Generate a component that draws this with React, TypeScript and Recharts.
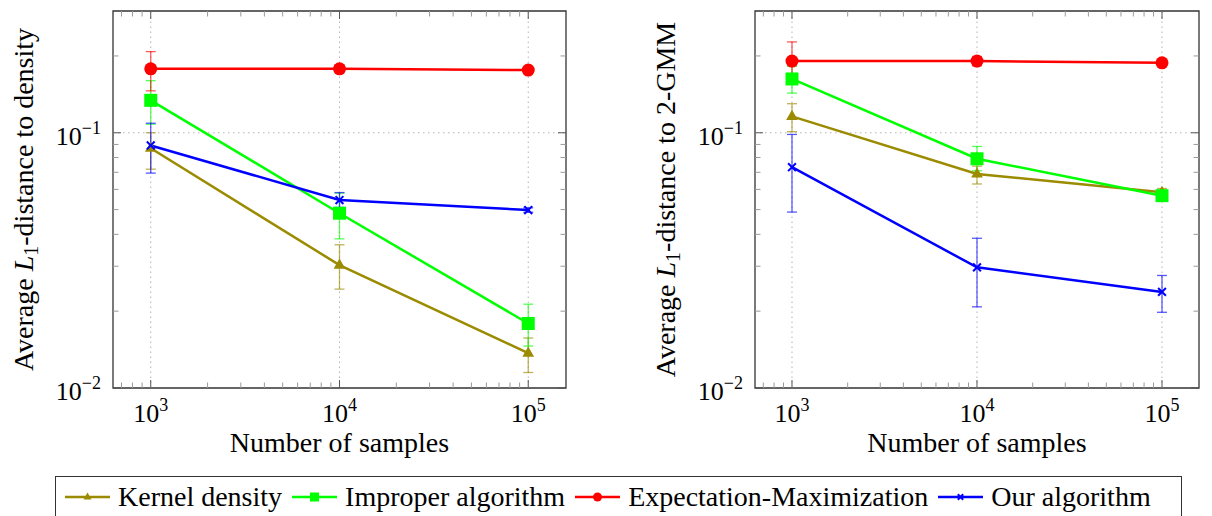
import React from "react";
import { LineChart, Line, XAxis, YAxis, ErrorBar, ReferenceLine, ReferenceArea } from "recharts";

const FONT = "'Liberation Serif', 'Times New Roman', serif";

const samples = [1000, 10000, 100000];

const xTicks = [
  700, 800, 900, 1000, 2000, 3000, 4000, 5000, 6000, 7000, 8000, 9000, 10000,
  20000, 30000, 40000, 50000, 60000, 70000, 80000, 90000, 100000,
];
const yTicks = [0.01, 0.02, 0.03, 0.04, 0.05, 0.06, 0.07, 0.08, 0.09, 0.1, 0.2];
const xMajor = [1000, 10000, 100000];
const xDomain = [631, 158489];
const yDomain = [0.01, 0.3];

// left panel: L1 distance to density (mean, lower, upper)
const densKernel = [0.087, 0.0303, 0.0137];
const densKernelLo = [0.072, 0.0244, 0.0115];
const densKernelHi = [0.1, 0.0364, 0.0157];
const densImproper = [0.134, 0.0484, 0.0179];
const densImproperLo = [0.108, 0.0384, 0.0146];
const densImproperHi = [0.16, 0.058, 0.0213];
const densEM = [0.178, 0.178, 0.176];
const densEMLo = [0.146, 0.172, 0.173];
const densEMHi = [0.208, 0.184, 0.179];
const densOurs = [0.0892, 0.0545, 0.0498];
const densOursLo = [0.0695, 0.051, 0.0488];
const densOursHi = [0.109, 0.0583, 0.0508];

// right panel: L1 distance to 2-GMM
const gmmKernel = [0.116, 0.069, 0.0585];
const gmmKernelLo = [0.101, 0.063, 0.0565];
const gmmKernelHi = [0.13, 0.074, 0.0605];
const gmmImproper = [0.1625, 0.0791, 0.0567];
const gmmImproperLo = [0.143, 0.071, 0.0545];
const gmmImproperHi = [0.182, 0.0884, 0.059];
const gmmEM = [0.191, 0.191, 0.188];
const gmmEMLo = [0.16, 0.183, 0.184];
const gmmEMHi = [0.227, 0.199, 0.192];
const gmmOurs = [0.0733, 0.0297, 0.0238];
const gmmOursLo = [0.0489, 0.0208, 0.0198];
const gmmOursHi = [0.0985, 0.0386, 0.0276];

const SERIES = [
  { key: "kernel", name: "Kernel density", color: "#9b8b00", shape: "triangle" },
  { key: "improper", name: "Improper algorithm", color: "#00ff00", shape: "square" },
  { key: "em", name: "Expectation-Maximization", color: "#ff0000", shape: "circle" },
  { key: "ours", name: "Our algorithm", color: "#0000ff", shape: "cross" },
];

type Triple = [number[], number[], number[]];

function buildRows(sets: Record<string, Triple>) {
  return samples.map((n, i) => {
    const row: any = { n };
    for (const k of Object.keys(sets)) {
      const [m, lo, hi] = sets[k];
      row[k] = m[i];
      row[k + "Err"] = [m[i] - lo[i], hi[i] - m[i]];
    }
    return row;
  });
}

const densityRows = buildRows({
  kernel: [densKernel, densKernelLo, densKernelHi],
  improper: [densImproper, densImproperLo, densImproperHi],
  em: [densEM, densEMLo, densEMHi],
  ours: [densOurs, densOursLo, densOursHi],
});

const gmmRows = buildRows({
  kernel: [gmmKernel, gmmKernelLo, gmmKernelHi],
  improper: [gmmImproper, gmmImproperLo, gmmImproperHi],
  em: [gmmEM, gmmEMLo, gmmEMHi],
  ours: [gmmOurs, gmmOursLo, gmmOursHi],
});

function Marker({ shape, cx, cy, color, s }: any) {
  if (cx == null || cy == null) return null;
  if (shape === "triangle") {
    return (
      <polygon
        points={`${cx},${cy - s} ${cx - s * 0.9},${cy + s * 0.55} ${cx + s * 0.9},${cy + s * 0.55}`}
        fill={color}
      />
    );
  }
  if (shape === "square") {
    return <rect x={cx - s} y={cy - s} width={2 * s} height={2 * s} fill={color} />;
  }
  if (shape === "circle") {
    return <circle cx={cx} cy={cy} r={s} fill={color} />;
  }
  const h = s * 0.6;
  return (
    <g stroke={color} strokeWidth={2}>
      <line x1={cx - h} y1={cy - h} x2={cx + h} y2={cy + h} />
      <line x1={cx - h} y1={cy + h} x2={cx + h} y2={cy - h} />
    </g>
  );
}

function XTick(props: any) {
  const { x, y, payload, top } = props;
  const v = payload.value;
  const major = xMajor.includes(v);
  const len = major ? 8 : 5.5;
  const stroke = major ? "#555" : "#9a9a9a";
  const exp = Math.round(Math.log10(v));
  return (
    <g>
      <line x1={x} y1={y} x2={x} y2={y - len} stroke={stroke} strokeWidth={1} />
      <line x1={x} y1={top} x2={x} y2={top + len} stroke={stroke} strokeWidth={1} />
      {major && (
        <text x={x} y={y + 34} textAnchor="middle" fontFamily={FONT} fontSize={26} fill="#000">
          10
          <tspan dy={-11} fontSize={18}>
            {exp}
          </tspan>
        </text>
      )}
    </g>
  );
}

function YTick(props: any) {
  const { x, y, payload, right } = props;
  const v = payload.value;
  const exp = Math.round(Math.log10(v));
  const major = Math.abs(Math.log10(v) - exp) < 1e-6;
  const len = major ? 8 : 5.5;
  const stroke = major ? "#555" : "#9a9a9a";
  return (
    <g>
      <line x1={x} y1={y} x2={x + len} y2={y} stroke={stroke} strokeWidth={1} />
      <line x1={right} y1={y} x2={right - len} y2={y} stroke={stroke} strokeWidth={1} />
      {major && (
        <text x={x - 12} y={y + 12} textAnchor="end" fontFamily={FONT} fontSize={26} fill="#000">
          10
          <tspan dy={-11} fontSize={18}>
            {"\u2212" + Math.abs(exp)}
          </tspan>
        </text>
      )}
    </g>
  );
}

function Title({ tx, ty, rotate, children }: any) {
  return (
    <text
      x={tx}
      y={ty}
      transform={rotate ? `rotate(-90, ${tx}, ${ty})` : undefined}
      textAnchor="middle"
      fontFamily={FONT}
      fontSize={28}
      fill="#000"
    >
      {children}
    </text>
  );
}

const PLOT_TOP = 11;
const PLOT_BOTTOM = 388;
const CHART_H = 470;

function Panel({ rows, width, plotLeft, plotRight, target }: any) {
  const midX = (plotLeft + plotRight) / 2;
  const midY = (PLOT_TOP + PLOT_BOTTOM) / 2;
  return (
    <LineChart
      width={width}
      height={CHART_H}
      data={rows}
      margin={{ top: PLOT_TOP, right: width - plotRight, bottom: 0, left: 0 }}
    >
      <XAxis
        dataKey="n"
        type="number"
        scale="log"
        domain={xDomain}
        allowDataOverflow
        ticks={xTicks}
        interval={0}
        tickSize={0}
        tickMargin={0}
        axisLine={false}
        tickLine={false}
        height={CHART_H - PLOT_BOTTOM}
        tick={<XTick top={PLOT_TOP} />}
        label={<Title tx={midX} ty={452}>Number of samples</Title>}
      />
      <YAxis
        type="number"
        scale="log"
        domain={yDomain}
        allowDataOverflow
        ticks={yTicks}
        interval={0}
        tickSize={0}
        tickMargin={0}
        axisLine={false}
        tickLine={false}
        width={plotLeft}
        tick={<YTick right={plotRight} />}
        label={
          <Title tx={plotLeft - 80} ty={midY} rotate>
            Average{" "}
            <tspan fontStyle="italic">L</tspan>
            <tspan fontSize={20} dy={5}>
              1
            </tspan>
            <tspan dy={-5}>-distance to {target}</tspan>
          </Title>
        }
      />
      {xMajor.map((v) => (
        <ReferenceLine key={v} x={v} stroke="#b4b4b4" strokeDasharray="1.5 3.5" strokeWidth={1} />
      ))}
      <ReferenceLine y={0.1} stroke="#b4b4b4" strokeDasharray="1.5 3.5" strokeWidth={1} />
      <ReferenceArea
        x1={xDomain[0]}
        x2={xDomain[1]}
        y1={yDomain[0]}
        y2={yDomain[1]}
        fill="none"
        fillOpacity={0}
        stroke="#333"
        strokeWidth={1.3}
      />
      {SERIES.map((s) => (
        <Line
          key={s.key}
          type="linear"
          dataKey={s.key}
          stroke={s.color}
          strokeWidth={2.5}
          activeDot={false}
          isAnimationActive={false}
          dot={(p: any) => (
            <Marker key={`${s.key}-${p.index}`} shape={s.shape} cx={p.cx} cy={p.cy} color={s.color} s={6.5} />
          )}
        >
          <ErrorBar
            dataKey={s.key + "Err"}
            direction="y"
            width={5}
            stroke={s.color}
            strokeWidth={1.3}
            strokeOpacity={0.65}
            isAnimationActive={false}
          />
        </Line>
      ))}
    </LineChart>
  );
}

function LegendBox() {
  return (
    <div
      style={{
        position: "absolute",
        left: 55,
        top: 476,
        width: 1127,
        height: 60,
        boxSizing: "border-box",
        border: "1px solid #333",
        display: "flex",
        alignItems: "flex-start",
        paddingLeft: 9,
        paddingTop: 6,
        fontFamily: FONT,
        fontSize: 28,
        lineHeight: "28px",
        color: "#000",
        whiteSpace: "nowrap",
      }}
    >
      {SERIES.map((s) => (
        <div key={s.key} style={{ display: "flex", alignItems: "center" }}>
          <svg width={45} height={20}>
            <line x1={0} y1={10} x2={45} y2={10} stroke={s.color} strokeWidth={2.5} />
            <Marker shape={s.shape} cx={22.5} cy={10} color={s.color} s={4.5} />
          </svg>
          <span style={{ marginLeft: 8, marginRight: 10 }}>{s.name}</span>
        </div>
      ))}
    </div>
  );
}

export default function App() {
  return (
    <div
      style={{
        position: "absolute",
        left: 0,
        top: 0,
        width: 1212,
        height: 516,
        overflow: "hidden",
        background: "#fff",
      }}
    >
      <div style={{ position: "absolute", left: 0, top: 0 }}>
        <Panel rows={densityRows} width={600} plotLeft={113} plotRight={566} target="density" />
      </div>
      <div style={{ position: "absolute", left: 600, top: 0 }}>
        <Panel rows={gmmRows} width={612} plotLeft={155} plotRight={599} target="2-GMM" />
      </div>
      <LegendBox />
    </div>
  );
}
